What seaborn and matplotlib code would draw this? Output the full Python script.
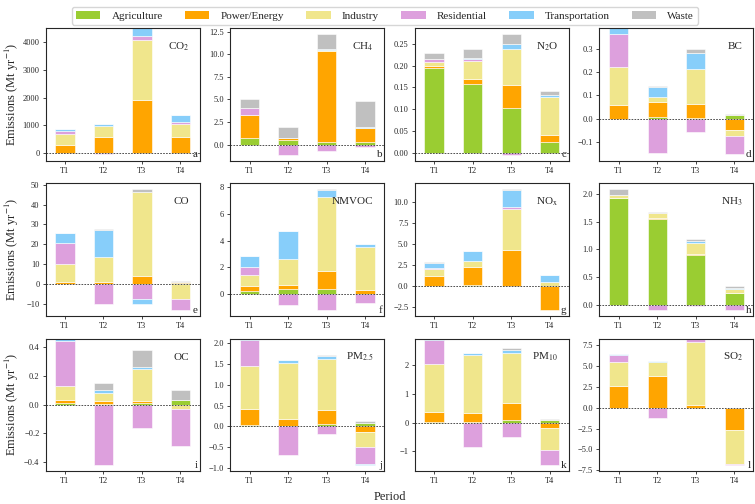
import numpy as np
import matplotlib
matplotlib.use("Agg")
import matplotlib.pyplot as plt
from matplotlib.patches import Patch
import seaborn as sns

periods = ["T1", "T2", "T3", "T4"]
sectors = ["Agriculture", "Power/Energy", "Industry", "Residential", "Transportation", "Waste"]
sector_colors = ["#9ACD32", "#FFA500", "#F0E68C", "#DDA0DD", "#87CEFA", "#C0C0C0"]

# rows follow `sectors`, columns follow `periods` (Mt/yr)
co2 = [[0, 0, 0, 0], [280, 590, 1925, 590], [390, 400, 2135, 455],
       [128, -50, 165, 75], [50, 50, 275, 250], [0, 0, 0, 0]]
ch4 = [[0.75, 0.55, 0.3, 0.3], [2.5, 0.22, 10.0, 1.55], [0.05, 0.02, 0.15, 0.05],
       [0.8, -1.1, -0.67, -0.3], [0, 0, 0.1, 0.05], [0.95, 1.16, 1.65, 2.9]]
n2o = [[0.195, 0.158, 0.104, 0.025], [0.005, 0.0115, 0.052, 0.015], [0.008, 0.041, 0.0825, 0.088],
       [0.007, 0.004, -0.004, 0], [0.001, 0.002, 0.0105, 0.004], [0.013, 0.021, 0.023, 0.010]]
bc = [[0, 0.009, 0.002, 0.014], [0.059, 0.061, 0.060, -0.05], [0.165, 0.025, 0.152, -0.027],
      [0.144, -0.147, -0.059, -0.078], [0.023, 0.040, 0.071, 0], [0, 0.006, 0.017, 0.007]]
co = [[0.3, 0.3, 0.2, 0.8], [1.0, 1.0, 3.8, 0.5], [8.9, 12.5, 42.5, -7.4],
      [10.4, -10.2, -7.4, -5.5], [5.1, 13.5, -2.8, 0], [0, 0.4, 1.1, 0.5]]
nmvoc = [[0.22, 0.37, 0.37, 0.02], [0.40, 0.33, 1.38, 0.30], [0.85, 1.97, 5.51, 3.25],
         [0.55, -0.8, -1.17, -0.67], [0.85, 2.09, 0.54, 0.20], [0, 0, 0.05, 0]]
nox = [[0.03, 0.12, 0.03, 0], [1.20, 2.14, 4.26, -2.78], [0.83, 0.80, 4.91, 0.56],
       [0.16, 0, 0.25, 0], [0.60, 1.19, 2.02, 0.79], [0.08, 0, 0.08, 0]]
nh3 = [[1.93, 1.54, 0.89, 0.205], [0, 0.03, 0.03, 0.01], [0.05, 0.09, 0.20, 0.075],
       [0, -0.09, -0.02, -0.09], [0, 0, 0.025, 0.02], [0.10, 0.01, 0.045, 0.03]]
oc = [[0.012, 0.005, 0.010, 0.034], [0.020, 0.019, 0.014, -0.005], [0.095, 0.059, 0.225, -0.029],
      [0.317, -0.42, -0.161, -0.259], [0.017, 0.017, 0.012, 0], [0, 0.051, 0.117, 0.064]]
pm25 = [[0.025, 0.01, 0.05, 0.085], [0.395, 0.175, 0.34, -0.143], [1.025, 1.355, 1.23, -0.357],
        [0.63, -0.69, -0.18, -0.41], [0.045, 0.06, 0.07, -0.015], [0, 0, 0.04, 0.035]]
pm10 = [[0.04, 0.03, 0.10, 0.11], [0.325, 0.31, 0.59, -0.18], [1.685, 2.04, 1.75, -0.76],
        [0.83, -0.86, -0.50, -0.52], [0.06, 0.05, 0.09, 0], [0, 0.02, 0.08, 0.035]]
so2 = [[0, 0, 0, 0], [2.56, 3.85, 0.34, -2.68], [2.93, 1.64, 7.58, -4.02],
       [0.84, -1.26, 0.38, -0.13], [0.12, 0.09, 0, 0], [0, 0, 0, 0]]

species = ["CO$_2$", "CH$_4$", "N$_2$O", "BC", "CO", "NMVOC",
           "NO$_\\mathrm{x}$", "NH$_3$", "OC", "PM$_{2.5}$", "PM$_{10}$", "SO$_2$"]
panel_letters = ["a", "b", "c", "d", "e", "f", "g", "h", "i", "j", "k", "l"]
datasets = [co2, ch4, n2o, bc, co, nmvoc, nox, nh3, oc, pm25, pm10, so2]

sns.set_theme(style="ticks")
plt.rcParams["font.family"] = ["Liberation Serif", "DejaVu Serif"]
plt.rcParams["mathtext.fontset"] = "stix"
plt.rcParams["axes.edgecolor"] = "0.15"
plt.rcParams["axes.linewidth"] = 0.8

fig, axes = plt.subplots(3, 4, figsize=(7.55, 5.04), dpi=100)
fig.subplots_adjust(left=0.0605, right=0.998, top=0.944, bottom=0.0655,
                    wspace=0.198, hspace=0.171)

for k, ax in enumerate(axes.flat):
    data = np.array(datasets[k], dtype=float)
    pos_base = np.zeros(len(periods))
    neg_base = np.zeros(len(periods))
    for i, sec in enumerate(sectors):
        vals = data[i]
        bottoms = np.where(vals >= 0, pos_base, neg_base)
        sns.barplot(x=periods, y=vals, bottom=bottoms, color=sector_colors[i],
                    saturation=1, width=0.5, errorbar=None, edgecolor="white",
                    linewidth=0.4, ax=ax)
        pos_base = pos_base + np.where(vals >= 0, vals, 0)
        neg_base = neg_base + np.where(vals < 0, vals, 0)
    ax.axhline(0, color="0.2", linestyle=(0, (2, 1.5)), linewidth=0.6, zorder=5)
    ax.tick_params(axis="both", labelsize=6, length=2.5, width=0.6, pad=2, color="0.15")
    ax.text(0.93, 0.86, species[k], transform=ax.transAxes, ha="right", va="center",
            fontsize=8)
    ax.text(0.985, 0.01, panel_letters[k], transform=ax.transAxes, ha="right",
            va="bottom", fontsize=8)
    ax.set_xlabel("")
    ax.set_ylabel("")

for r in range(3):
    bb = axes[r, 0].get_position()
    fig.text(0.016, (bb.y0 + bb.y1) / 2, "Emissions (Mt yr$^{-1}$)", rotation=90,
             ha="center", va="center", fontsize=9)

fig.text(390 / 755, 1 - 497 / 504, "Period", ha="center", va="center", fontsize=9)

handles = [Patch(facecolor=c, edgecolor="none") for c in sector_colors]
fig.legend(handles, sectors, loc="upper center", bbox_to_anchor=(0.51, 0.997), ncol=6,
           fontsize=8, frameon=True, handlelength=2.2, handletextpad=1.0,
           columnspacing=2.0, borderpad=0.35, edgecolor="0.8", fancybox=True)

fig.savefig("out.png", dpi=100)
